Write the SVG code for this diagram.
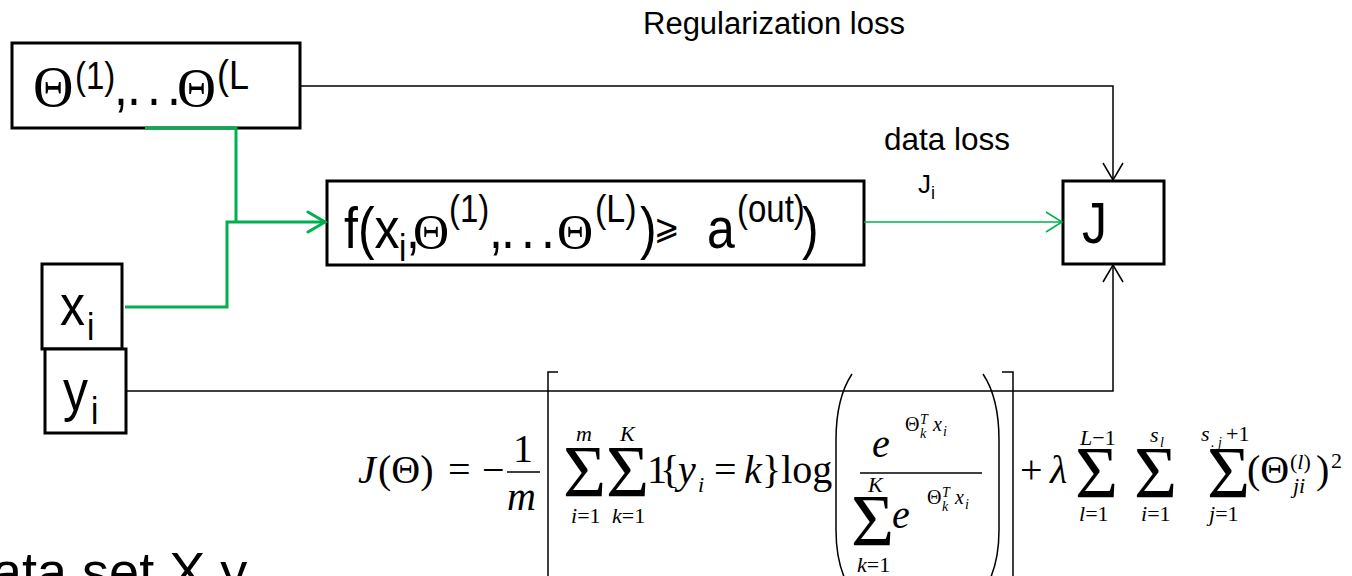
<svg xmlns="http://www.w3.org/2000/svg" width="1352" height="576" viewBox="0 0 1352 576">
<style>
.box{fill:#fff;stroke:#000;stroke-width:3}
.sans{font-family:'Liberation Sans',Arial,sans-serif;fill:#000}
.serif{font-family:'Liberation Serif','Times New Roman',serif;fill:#000}
.big{font-size:50px}
.sup{font-size:33px}
.it{font-style:italic}
.f40{font-size:40px}
.f22{font-size:22px}
.f20{font-size:20px}
.f14{font-size:14px}
.sig{font-size:74px}
.blk{fill:none;stroke:#000;stroke-width:1.5}
.grn{fill:none;stroke:#00B050;stroke-width:1.5}
.grnT{fill:none;stroke:#00B050;stroke-width:3}
.fl{fill:none;stroke:#000;stroke-width:1.5}
</style>
<defs>
<marker id="aB" markerUnits="userSpaceOnUse" markerWidth="20" markerHeight="22" refX="18" refY="11" orient="auto"><path d="M1,1 L18,11 L1,21" fill="none" stroke="#000" stroke-width="1.5"/></marker>
<marker id="aG" markerUnits="userSpaceOnUse" markerWidth="20" markerHeight="22" refX="18" refY="11" orient="auto"><path d="M2,1 L18,11 L2,21" fill="none" stroke="#00B050" stroke-width="1.5"/></marker>
<marker id="aGT" markerUnits="userSpaceOnUse" markerWidth="22" markerHeight="24" refX="19" refY="12" orient="auto"><path d="M2,2 L19,12 L2,22" fill="none" stroke="#00B050" stroke-width="3" stroke-linecap="round"/></marker>
</defs>

<text class="sans" x="643" y="34" font-size="31">Regularization loss</text>
<text class="sans" x="884" y="150" font-size="31.5">data loss</text>
<text class="sans" x="918" y="193" font-size="26">J<tspan font-size="18" dy="6">i</tspan></text>

<g id="theta">
<rect class="box" x="12" y="43" width="288" height="85"/>
<text class="serif" x="33" y="106" font-size="56">Θ</text>
<text class="serif" x="177" y="106" font-size="54">Θ</text>
<g transform="matrix(1 0 0 1.15 0 -15.75)">
<text class="sans sup" x="75" y="91">(1)</text>
<text class="sans big" x="114" y="105">,</text>
<text class="sans big" y="105"><tspan x="127 147 167">...</tspan></text>
<text class="sans" x="217" y="91" font-size="36">(L</text>
</g>
</g>

<g id="f">
<rect class="box" x="327" y="181" width="537" height="84"/>
<text class="serif" x="413" y="249" font-size="50">Θ</text>
<text class="serif" x="557" y="249" font-size="50">Θ</text>
<g transform="matrix(1 0 0 1.15 0 -37.2)">
<text class="sans big" x="344" y="248">f(x</text>
<text class="sans sup" x="399" y="259">i</text>
<text class="sans big" x="406" y="248">,</text>
<text class="sans sup" x="449" y="225">(1)</text>
<text class="sans big" x="489" y="248">,</text>
<text class="sans big" y="248"><tspan x="501 521 541">...</tspan></text>
<text class="sans" x="595" y="225" font-size="34">(L)</text>
<text class="sans big" x="640" y="248">)</text>
<text class="serif" x="654" y="240" font-size="30">⩾</text>
<text class="sans big" x="707" y="248">a</text>
<text class="sans sup" x="737" y="225">(out)</text>
<text class="sans big" x="802" y="248">)</text>
</g>
</g>

<g id="J">
<rect class="box" x="1063" y="181" width="101" height="83"/>
<text class="sans big" x="1082" y="243" transform="matrix(1 0 0 1.15 0 -36.45)">J</text>
</g>

<g id="xi">
<rect class="box" x="42" y="264" width="80" height="85"/>
<g transform="matrix(1 0 0 1.15 0 -48.75)">
<text class="sans big" x="60" y="325">x</text>
<text class="sans sup" x="87" y="338">i</text>
</g>
</g>

<g id="yi">
<rect class="box" x="45" y="349" width="81" height="84"/>
<g transform="matrix(1 0 0 1.15 0 -61.5)">
<text class="sans big" x="63" y="410">y</text>
<text class="sans sup" x="91" y="422">i</text>
</g>
</g>

<g id="connectors">
<polyline class="blk" points="300,86 1113,86 1113,180" marker-end="url(#aB)"/>
<polyline class="blk" points="126,391 1113,391 1113,265" marker-end="url(#aB)"/>
<line class="grn" x1="864" y1="222" x2="1062" y2="222" marker-end="url(#aG)"/>
<polyline class="grnT" points="145,128 236,128 236,222"/>
<polyline class="grnT" points="125,307 227,307 227,222 325,222" marker-end="url(#aGT)"/>
</g>

<g id="formula">
<text class="serif f40 it" x="358" y="483">J</text>
<text class="serif f40" x="378" y="483">(Θ)</text>
<text class="serif f40" x="448" y="483">=</text>
<text class="serif f40" x="482" y="483">−</text>
<text class="serif f40" x="513" y="462">1</text>
<line class="fl" x1="507" y1="472" x2="540" y2="472"/>
<text class="serif f40 it" x="507" y="510">m</text>
<path class="fl" d="M558,372 L548,372 L548,600"/>
<text class="serif sig" x="563" y="497">Σ</text>
<text class="serif f22 it" x="576" y="441">m</text>
<text class="serif f22" x="571" y="523"><tspan font-style="italic">i</tspan>=1</text>
<text class="serif sig" x="606" y="497">Σ</text>
<text class="serif f22 it" x="620" y="441">K</text>
<text class="serif f22" x="612" y="523"><tspan font-style="italic">k</tspan>=1</text>
<text class="serif f40" x="647" y="483">1</text>
<text class="serif f40" x="660" y="483">{</text>
<text class="serif f40 it" x="678" y="483">y</text>
<text class="serif f22 it" x="698" y="492">i</text>
<text class="serif f40" x="714" y="483">=</text>
<text class="serif f40 it" x="744" y="483">k</text>
<text class="serif f40" x="762" y="483">}log</text>
<path class="fl" d="M852,374 C840,392 836,415 836,440 L836,530 C836,553 840,574 852,592" stroke-width="2"/>
<text class="serif f40 it" x="872" y="457">e</text>
<text class="serif f20" x="905" y="431">Θ</text>
<text class="serif f14 it" x="920" y="424">T</text>
<text class="serif f14 it" x="920" y="438">k</text>
<text class="serif f20 it" x="933" y="431">x</text>
<text class="serif f14 it" x="943" y="436">i</text>
<line class="fl" x1="860" y1="473" x2="982" y2="473"/>
<text class="serif f22 it" x="868" y="492">K</text>
<text class="serif sig" x="851" y="546">Σ</text>
<text class="serif f22" x="857" y="572"><tspan font-style="italic">k</tspan>=1</text>
<text class="serif f40 it" x="892" y="528">e</text>
<text class="serif f20" x="927" y="504">Θ</text>
<text class="serif f14 it" x="942" y="497">T</text>
<text class="serif f14 it" x="942" y="511">k</text>
<text class="serif f20 it" x="955" y="504">x</text>
<text class="serif f14 it" x="965" y="509">i</text>
<path class="fl" d="M983,374 C995,392 999,415 999,440 L999,530 C999,553 995,574 983,592" stroke-width="2"/>
<path class="fl" d="M1002,372 L1013,372 L1013,600"/>
<text class="serif f40" x="1020" y="483">+</text>
<text class="serif f40 it" x="1050" y="483">λ</text>
<text class="serif sig" x="1075" y="498">Σ</text>
<text class="serif f22" x="1080" y="445"><tspan font-style="italic">L</tspan>−1</text>
<text class="serif f22" x="1079" y="521"><tspan font-style="italic">l</tspan>=1</text>
<text class="serif sig" x="1134" y="498">Σ</text>
<text class="serif f22 it" x="1150" y="442">s</text>
<text class="serif f14 it" x="1160" y="447">l</text>
<text class="serif sig" x="1207" y="498">Σ</text>
<text class="serif f22" x="1141" y="521"><tspan font-style="italic">i</tspan>=1</text>
<text class="serif f22 it" x="1201" y="441">s</text>
<text class="serif f14 it" x="1211" y="447">. j</text>
<text class="serif f22" x="1226" y="441">+1</text>
<text class="serif f22" x="1209" y="521"><tspan font-style="italic">j</tspan>=1</text>
<text class="serif f40" x="1247" y="483">(Θ</text>
<text class="serif f22" x="1290" y="469">(<tspan font-style="italic">l</tspan>)</text>
<text class="serif f22 it" x="1293" y="493">ji</text>
<text class="serif f40" x="1316" y="483">)</text>
<text class="serif f22" x="1331" y="468">2</text>
</g>

<text class="sans" x="-38" y="590" font-size="54">data set X,y</text>
</svg>
